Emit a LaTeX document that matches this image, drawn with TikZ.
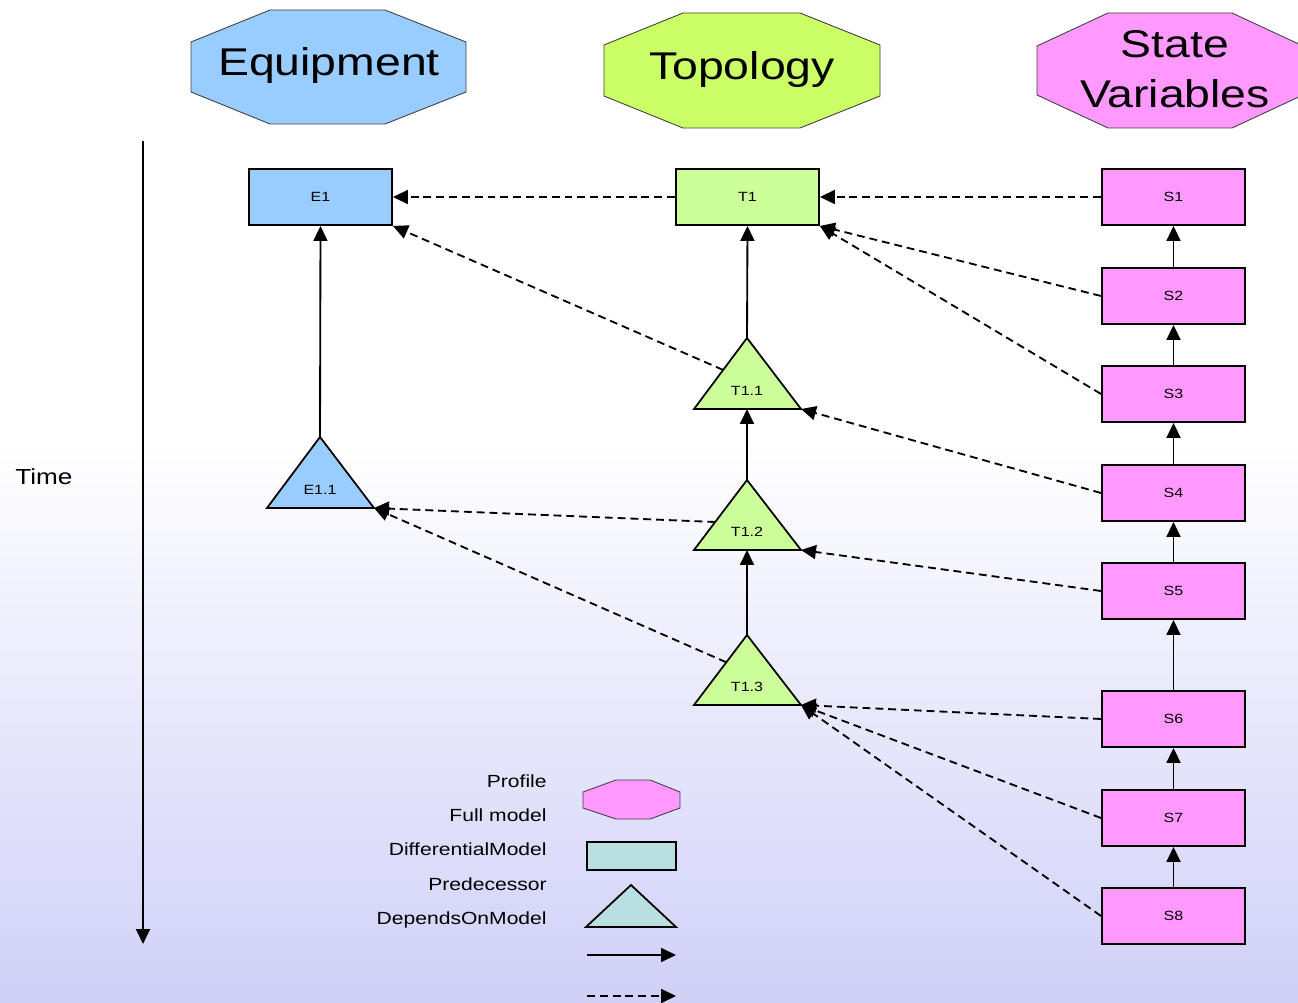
\documentclass[tikz,border=0pt]{standalone}
\usepackage{fontspec}
\setmainfont{Liberation Sans}[FakeStretch=1.2]
\usetikzlibrary{arrows.meta,calc}

\definecolor{eqblue}{HTML}{99CCFF}
\definecolor{topgreen}{HTML}{CCFF66}
\definecolor{boxgreen}{HTML}{CCFF99}
\definecolor{svpink}{HTML}{FF99FF}
\definecolor{legteal}{HTML}{B8E0E0}
\definecolor{bglav}{HTML}{D0D0F8}

% background fade: lavender at the bottom, white in the upper part
\pgfdeclareverticalshading{bgfade}{100bp}{color(0bp)=(bglav); color(25bp)=(bglav); color(53bp)=(white); color(100bp)=(white)}

\tikzset{
  octo/.style={draw=black!75, line width=0.5pt},
  title/.style={font=\fontsize{22}{25}\selectfont, align=center, inner sep=0pt},
  box/.style={draw=black, line width=1.1pt, minimum width=2.86cm, minimum height=1.12cm, inner sep=0pt, font=\fontsize{7.6}{9}\selectfont},
  trilbl/.style={inner sep=0pt, font=\fontsize{7.6}{9}\selectfont},
  tri/.style={draw=black, line width=1pt, line join=miter},
  legtxt/.style={inner sep=0pt, font=\fontsize{10}{12}\selectfont},
  tip/.style={-{Triangle[length=0.3cm,width=0.28cm]}},
  pred/.style={tip, line width=1.05pt},
  dep/.style={tip, line width=1.05pt, dash pattern=on 4.5pt off 2.8pt},
}

\begin{document}
\begin{tikzpicture}[x=0.02cm, y=-0.02cm]
  \useasboundingbox (0,0) rectangle (1298,1003);
  \clip (0,0) rectangle (1298,1003);
  \fill[shading=bgfade] (0,0) rectangle (1298,1003);

  % column headers
  \filldraw[octo, fill=eqblue] (270,10) -- (385,10) -- (466,42) -- (466,92) -- (385,124) -- (270,124) -- (191,92) -- (191,42) -- cycle;
  \node[title] (hEq) at (329,66) {Equipment};
  \filldraw[octo, fill=topgreen] (683,13) -- (800,13) -- (880,45) -- (880,96) -- (800,128) -- (683,128) -- (604,96) -- (604,45) -- cycle;
  \node[title] (hTop) at (742,70) {Topology};
  \filldraw[octo, fill=svpink] (1108,13) -- (1232,13) -- (1303,46) -- (1303,95) -- (1232,128) -- (1108,128) -- (1037,95) -- (1037,46) -- cycle;
  \node[title, text depth=0pt] (hSV) at (1175,69) {State\\[3pt]Variables};

  % time axis
  \coordinate (tTop) at (143,141);
  \coordinate (tBot) at (143,944);
  \draw[pred] (tTop) -- (tBot);
  \node[legtxt, anchor=base west, font=\fontsize{12.4}{14}\selectfont] (time) at (15,484) {Time};

  % full models
  \node[box, fill=eqblue] (E1) at (320.5,197) {E1};
  \node[box, fill=boxgreen] (T1) at (747.5,197) {T1};

  % state variable models
  \foreach \n/\y in {1/197, 2/296, 3/394, 4/493, 5/591, 6/719, 7/818, 8/916}
    \node[box, fill=svpink] (S\n) at (1173.5,\y) {S\n};

  % differential models (triangles)
  \coordinate (E11a) at (320,437); \coordinate (E11l) at (267,508); \coordinate (E11r) at (374,508);
  \filldraw[tri, fill=eqblue] (E11a) -- (E11l) -- (E11r) -- cycle;
  \node[trilbl] (E11) at (320,490) {E1.1};

  \coordinate (T11a) at (747,338); \coordinate (T11l) at (694,409); \coordinate (T11r) at (801,409);
  \coordinate (T11b) at (747,409);
  \filldraw[tri, fill=boxgreen] (T11a) -- (T11l) -- (T11r) -- cycle;
  \node[trilbl] (T11) at (747,391) {T1.1};

  \coordinate (T12a) at (747,480); \coordinate (T12l) at (694,550); \coordinate (T12r) at (801,550);
  \coordinate (T12b) at (747,550);
  \filldraw[tri, fill=boxgreen] (T12a) -- (T12l) -- (T12r) -- cycle;
  \node[trilbl] (T12) at (747,532) {T1.2};

  \coordinate (T13a) at (747,635); \coordinate (T13l) at (694,705); \coordinate (T13r) at (801,705);
  \filldraw[tri, fill=boxgreen] (T13a) -- (T13l) -- (T13r) -- cycle;
  \node[trilbl] (T13) at (747,687) {T1.3};

  % points on the left edges where dependencies leave
  \coordinate (T11e) at ($(T11a)!0.45!(T11l)$);
  \coordinate (T12e) at ($(T12a)!0.6!(T12l)$);
  \coordinate (T13e) at ($(T13a)!0.39!(T13l)$);

  % predecessor links
  \draw[pred] (E11a) -- (E1.south);
  \draw[pred] (T11a) -- (T1.south);
  \draw[pred] (T12a) -- (T11b);
  \draw[pred] (T13a) -- (T12b);
  \foreach \a/\b in {2/1, 3/2, 4/3, 5/4, 6/5, 7/6, 8/7}
    \draw[pred] (S\a.north) -- (S\b.south);

  % depends-on links
  \draw[dep] (T1.west) -- (E1.east);
  \draw[dep] (S1.west) -- (T1.east);
  \draw[dep] (S2.west) -- (T1.south east);
  \draw[dep] (S3.west) -- (T1.south east);
  \draw[dep] (T11e) -- (E1.south east);
  \draw[dep] (S4.west) -- (T11r);
  \draw[dep] (T12e) -- (E11r);
  \draw[dep] (S5.west) -- (T12r);
  \draw[dep] (T13e) -- (E11r);
  \draw[dep] (S6.west) -- (T13r);
  \draw[dep] (S7.west) -- (T13r);
  \draw[dep] (S8.west) -- (T13r);

  % legend
  \node[legtxt, anchor=base east] (lgProfile) at (547,787) {Profile};
  \node[legtxt, anchor=base east] (lgFull) at (547,821) {Full model};
  \node[legtxt, anchor=base east] (lgDiff) at (547,855) {DifferentialModel};
  \node[legtxt, anchor=base east] (lgPred) at (547,890) {Predecessor};
  \node[legtxt, anchor=base east] (lgDep) at (547,924) {DependsOnModel};

  \filldraw[octo, fill=svpink] (616,780) -- (650,780) -- (680,792) -- (680,808) -- (650,819) -- (616,819) -- (583,808) -- (583,792) -- cycle;
  \node[draw=black, line width=1.1pt, fill=legteal, minimum width=1.78cm, minimum height=0.56cm, inner sep=0pt] (lgBox) at (631.5,856) {};
  \coordinate (lgTa) at (631,885); \coordinate (lgTl) at (586,927); \coordinate (lgTr) at (676,927);
  \filldraw[tri, fill=legteal] (lgTa) -- (lgTl) -- (lgTr) -- cycle;
  \coordinate (lgS1) at (587,955); \coordinate (lgS2) at (676,955);
  \draw[pred] (lgS1) -- (lgS2);
  \coordinate (lgD1) at (587,996); \coordinate (lgD2) at (676,996);
  \draw[dep] (lgD1) -- (lgD2);
\end{tikzpicture}
\end{document}
